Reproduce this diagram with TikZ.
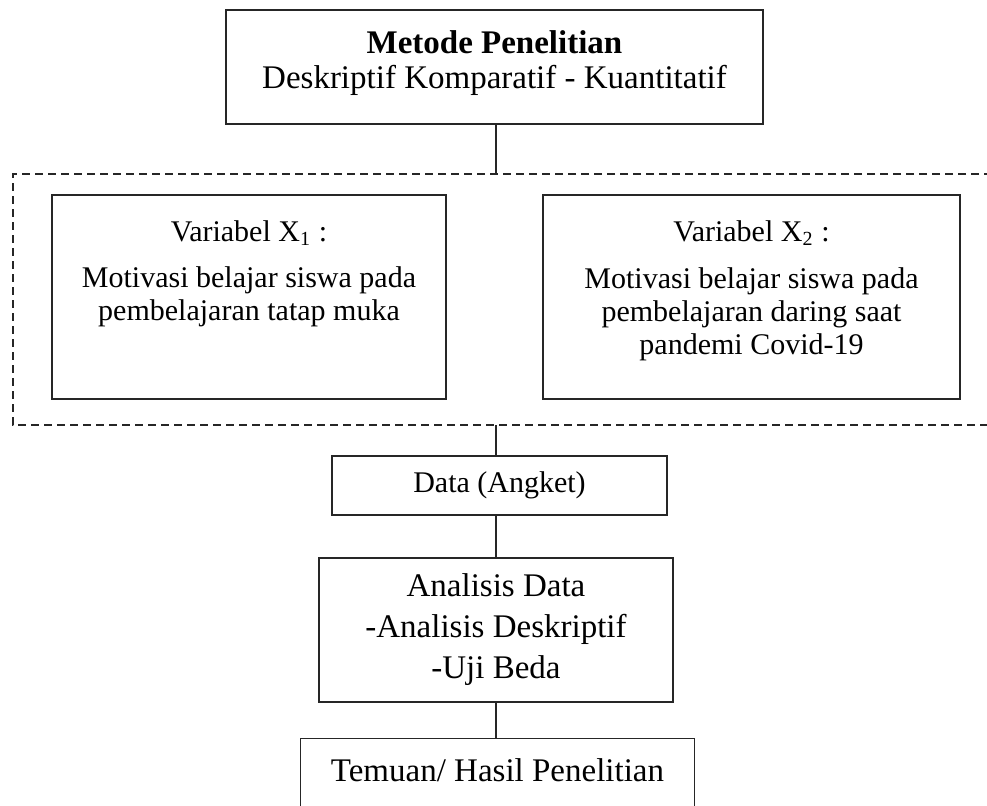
\documentclass[tikz,border=0pt]{standalone}
\usepackage{fontspec}
\setmainfont{Liberation Serif}

\begin{document}
\begin{tikzpicture}[x=0.4pt, y=-0.4pt,
    boxline/.style={draw=black!85, line width=0.7pt},
    box/.style={boxline, inner sep=0pt, align=center},
    frame/.style={draw=black!85, line width=0.8pt, dash pattern=on 3.2pt off 2pt},
    small/.style={align=center, font=\fontsize{12}{13.2}\selectfont},
    big/.style={align=center, font=\fontsize{13.2}{14}\selectfont}]
    \useasboundingbox (0,0) rectangle (987,806);

    \coordinate (spine) at (496,0);

    % metode penelitian
    \node[box, minimum width=214.8pt, minimum height=45.6pt] (metode) at (494.5,67) {};
    \node[big] (metodeT) at (494.5,63) {\textbf{Metode Penelitian}\\Deskriptif Komparatif - Kuantitatif};

    % dashed frame, open to the right
    \coordinate (fnw) at (13,174);
    \coordinate (fsw) at (13,425);
    \coordinate (fne) at (992,174);
    \coordinate (fse) at (992,425);
    \draw[frame] (fne) -- (fnw) -- (fsw) -- (fse);

    % variabel boxes
    \node[box, minimum width=157.6pt, minimum height=81.6pt] (var1) at (249,297) {};
    \node[small] (var1T) at (249,233) {Variabel X\textsubscript{1} :};
    \node[small] (var1B) at (249,297) {Motivasi belajar siswa pada\\pembelajaran tatap muka};

    \node[box, minimum width=166.8pt, minimum height=81.6pt] (var2) at (751.5,297) {};
    \node[small] (var2T) at (751.5,233) {Variabel X\textsubscript{2} :};
    \node[small] (var2B) at (751.5,314) {Motivasi belajar siswa pada\\pembelajaran daring saat\\pandemi Covid-19};

    % data, analisis, temuan
    \node[box, small, minimum width=134pt, minimum height=23.6pt] (data) at (499.5,485.5) {Data (Angket)};
    \node[box, big, font=\fontsize{13.2}{16.4}\selectfont, minimum width=141.6pt, minimum height=57.6pt] (analisis) at (496,630)
        {Analisis Data\\-Analisis Deskriptif\\-Uji Beda};
    \node[minimum width=157.2pt, minimum height=29.2pt, inner sep=0pt] (temuan) at (497.5,775.5) {};
    \draw[boxline] (temuan.south west) |- (temuan.north east) -- (temuan.south east);
    \node[big] (temuanT) at (497.5,770) {Temuan/ Hasil Penelitian};

    % connectors
    \draw[boxline] (metode.south -| spine) -- (fnw -| spine);
    \draw[boxline] (fsw -| spine) -- (data.north -| spine);
    \draw[boxline] (data.south -| spine) -- (analisis.north -| spine);
    \draw[boxline] (analisis.south -| spine) -- (temuan.north -| spine);
\end{tikzpicture}
\end{document}
